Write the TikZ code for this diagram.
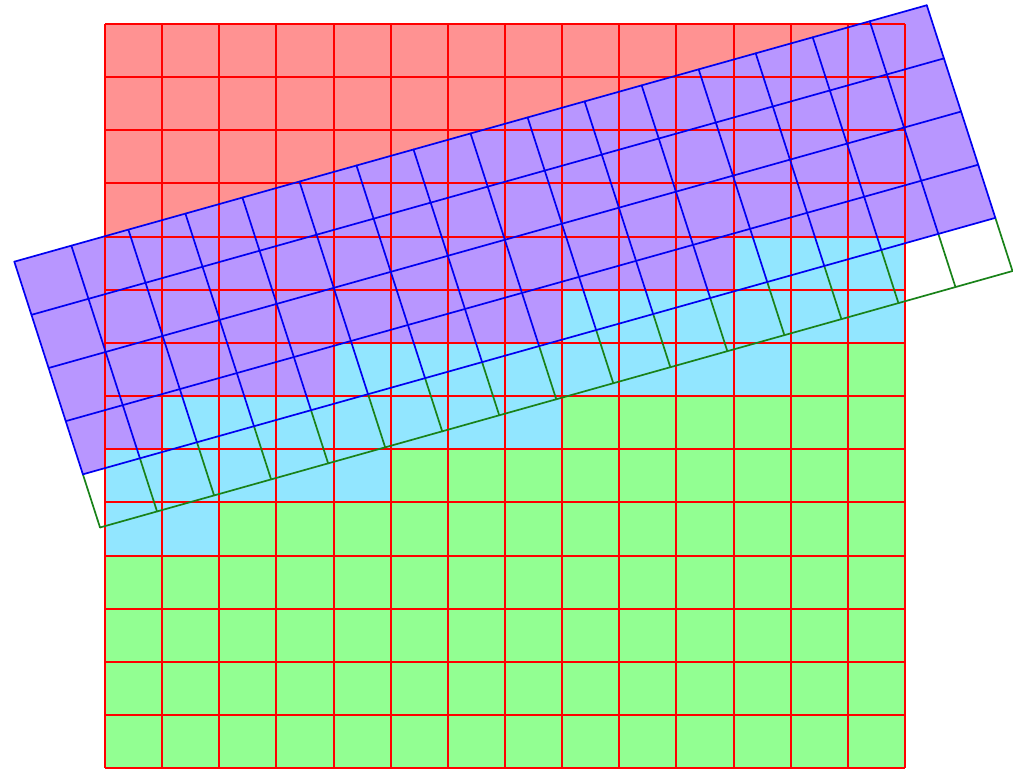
\documentclass[tikz,border=0pt]{standalone}
\usetikzlibrary{calc}
\definecolor{pinkfill}{RGB}{255,146,146}
\definecolor{purplefill}{RGB}{184,150,255}
\definecolor{cyanfill}{RGB}{146,230,255}
\definecolor{greenfill}{RGB}{146,255,146}
\definecolor{gridred}{RGB}{255,0,0}
\definecolor{gridblue}{RGB}{0,0,240}
\definecolor{gridgreen}{RGB}{25,130,25}
\tikzset{
  redline/.style={draw=gridred, line width=2pt},
  blueline/.style={draw=gridblue, line width=1.7pt, line cap=round},
  greenline/.style={draw=gridgreen, line width=1.7pt, line cap=round},
}
\begin{document}
\begin{tikzpicture}[x=57.143pt, y=-53.16pt]
\useasboundingbox (-1.8376,-0.4515) rectangle (15.890,14.033);
% background of the red grid
\fill[pinkfill] (0,0) rectangle (14,14);
% rotated rectangle
\coordinate (TL) at (-1.587,4.471);
\coordinate (U) at (0.998,-0.3015);
\coordinate (V) at (0.3,1.0);
\coordinate (TR) at ($(TL)+16*(U)$);
\coordinate (BL4) at ($(TL)+4*(V)$);
\coordinate (BR4) at ($(TR)+4*(V)$);
\coordinate (BL5) at ($(TL)+5*(V)$);
\coordinate (BR5) at ($(TR)+5*(V)$);
\fill[purplefill] (TL) -- (TR) -- (BR4) -- (BL4) -- cycle;
% cyan cells
\fill[cyanfill] (11,4) rectangle (14,5);
\fill[cyanfill] (8,5) rectangle (14,6);
\fill[cyanfill] (4,6) rectangle (12,7);
\fill[cyanfill] (1,7) rectangle (8,8);
\fill[cyanfill] (0,8) rectangle (5,9);
\fill[cyanfill] (0,9) rectangle (2,10);
% green cells
\fill[greenfill] (12,6) rectangle (14,7);
\fill[greenfill] (8,7) rectangle (14,8);
\fill[greenfill] (5,8) rectangle (14,9);
\fill[greenfill] (2,9) rectangle (14,10);
\fill[greenfill] (0,10) rectangle (14,14);
% red grid
\foreach \i in {0,...,14} {
  \draw[redline] (\i,0) -- (\i,14);
  \draw[redline] (0,\i) -- (14,\i);
}
% rotated grid: green row
\foreach \i in {0,...,16} {
  \draw[greenline] ($(BL4)+\i*(U)$) -- ($(BL5)+\i*(U)$);
}
\draw[greenline] (BL5) -- (BR5);
% rotated grid: blue rows
\foreach \i in {0,...,16} {
  \draw[blueline] ($(TL)+\i*(U)$) -- ($(BL4)+\i*(U)$);
}
\foreach \j in {0,...,4} {
  \draw[blueline] ($(TL)+\j*(V)$) -- ($(TR)+\j*(V)$);
}
\end{tikzpicture}
\end{document}
